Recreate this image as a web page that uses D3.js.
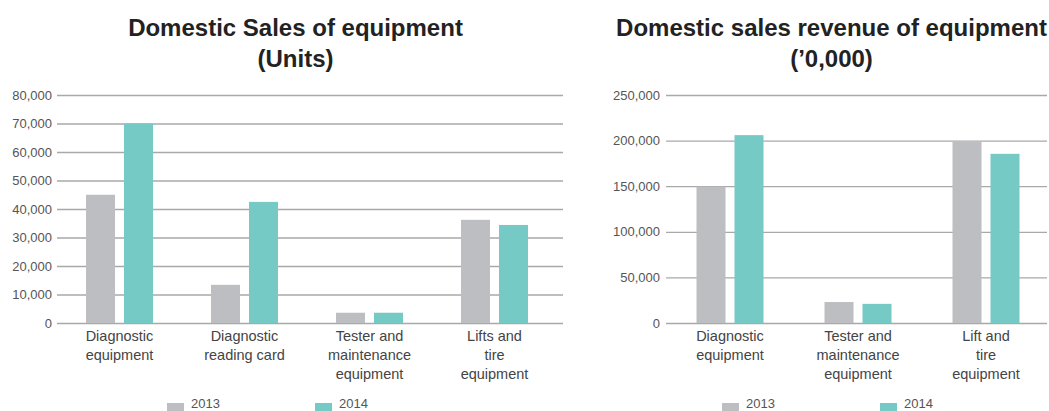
<!DOCTYPE html>
<html>
<head>
<meta charset="utf-8">
<script src="https://cdn.jsdelivr.net/npm/d3@7"></script>
<style>
  html, body { margin: 0; padding: 0; background: #fff; }
  svg { display: block; }
</style>
</head>
<body>
<svg id="chart" width="1049" height="411"></svg>
<script>
// ---------- data ----------
const years = ["2013", "2014"];
const unitCategories = [
  ["Diagnostic", "equipment"],
  ["Diagnostic", "reading card"],
  ["Tester and", "maintenance", "equipment"],
  ["Lifts and", "tire", "equipment"]
];
const units2013 = [45000, 13400, 3600, 36200];
const units2014 = [70000, 42500, 3600, 34400];
const unitTicks = [0, 10000, 20000, 30000, 40000, 50000, 60000, 70000, 80000];

const revenueCategories = [
  ["Diagnostic", "equipment"],
  ["Tester and", "maintenance", "equipment"],
  ["Lift and", "tire", "equipment"]
];
const revenue2013 = [149500, 23000, 198500];
const revenue2014 = [206000, 21000, 185500];
const revenueTicks = [0, 50000, 100000, 150000, 200000, 250000];

const titles = [
  ["Domestic Sales of equipment", "(Units)"],
  ["Domestic sales revenue of equipment", "(\u20190,000)"]
];

// ---------- style ----------
const colors = { "2013": "#bdbec2", "2014": "#75cac6" };
const FONT = "'Liberation Sans', Arial, Helvetica, sans-serif";
const svg = d3.select("#chart");

function drawChart(opt) {
  const g = svg.append("g");
  const y = d3.scaleLinear().domain([0, opt.yMax]).range([opt.y0, opt.yTop]);
  const x0 = d3.scaleBand().domain(d3.range(opt.cats.length)).range([opt.xL, opt.xR]).padding(0);
  const groupW = 67;
  const x1 = d3.scaleBand().domain(years).range([0, groupW]).paddingInner(9 / 38).paddingOuter(0);

  // grid + y labels
  const axis = d3.axisLeft(y)
    .tickValues(opt.ticks)
    .tickSize(-(opt.gridR - opt.xL))
    .tickPadding(opt.pad)
    .tickFormat(d3.format(","));
  const ag = g.append("g").attr("transform", `translate(${opt.xL},0)`).call(axis);
  ag.select(".domain").remove();
  ag.selectAll(".tick line").attr("stroke", "#a9a9a9").attr("stroke-width", 1.3);
  ag.selectAll(".tick text")
    .attr("font-family", FONT).attr("font-size", 13).attr("fill", "#555");

  // bars
  const rows = opt.cats.map((c, i) => ({ i, vals: { "2013": opt.s13[i], "2014": opt.s14[i] } }));
  const grp = g.selectAll(".grp").data(rows).enter().append("g")
    .attr("transform", d => `translate(${x0(d.i) + (x0.bandwidth() - groupW) / 2},0)`);
  grp.selectAll("rect").data(d => years.map(yr => ({ yr, v: d.vals[yr] }))).enter().append("rect")
    .attr("x", d => x1(d.yr))
    .attr("width", x1.bandwidth())
    .attr("y", d => y(d.v))
    .attr("height", d => y(0) - y(d.v))
    .attr("fill", d => colors[d.yr]);

  // category labels
  const lab = g.selectAll(".cat").data(opt.cats).enter().append("text")
    .attr("text-anchor", "middle")
    .attr("font-family", FONT).attr("font-size", 14.5).attr("fill", "#444")
    .attr("x", (d, i) => x0(i) + x0.bandwidth() / 2)
    .attr("y", 341);
  lab.selectAll("tspan").data(d => d).enter().append("tspan")
    .attr("x", function () { return this.parentNode.getAttribute("x"); })
    .attr("dy", (d, i) => i === 0 ? 0 : 19)
    .text(d => d);

  // title
  const t = g.append("text").attr("text-anchor", "middle")
    .attr("font-family", FONT).attr("font-weight", "bold").attr("font-size", 24).attr("fill", "#222");
  opt.title.forEach((line, i) => {
    t.append("tspan").attr("x", opt.titleX).attr("y", i === 0 ? 36 : 67).text(line);
  });

  // legend
  opt.legend.forEach((lx, i) => {
    g.append("rect").attr("x", lx).attr("y", 403).attr("width", 17).attr("height", 17).attr("fill", colors[years[i]]);
    g.append("text").attr("x", lx + 24).attr("y", 408)
      .attr("font-family", FONT).attr("font-size", 13).attr("fill", "#555").text(years[i]);
  });
}

drawChart({
  cats: unitCategories, s13: units2013, s14: units2014, ticks: unitTicks, yMax: 80000,
  xL: 57, xR: 557, gridR: 563, y0: 323, yTop: 95, pad: 5,
  title: titles[0], titleX: 295.5, legend: [167, 315]
});
drawChart({
  cats: revenueCategories, s13: revenue2013, s14: revenue2014, ticks: revenueTicks, yMax: 250000,
  xL: 666, xR: 1050, gridR: 1047, y0: 323, yTop: 95, pad: 6,
  title: titles[1], titleX: 831.5, legend: [722, 880]
});
</script>
</body>
</html>
